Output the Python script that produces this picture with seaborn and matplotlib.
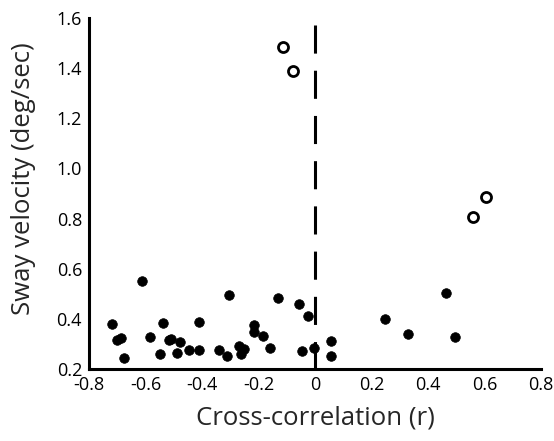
import matplotlib
matplotlib.use('Agg')
import matplotlib.pyplot as plt
import seaborn as sns
import pandas as pd

sns.set_theme(style='white')
plt.rcParams['font.family'] = ['Open Sans', 'DejaVu Sans']

# filled points
r_filled = [-0.72, -0.70, -0.688, -0.677, -0.611, -0.584, -0.537, -0.55, -0.516, -0.508,
            -0.477, -0.488, -0.445, -0.409, -0.409, -0.34, -0.313, -0.304, -0.269, -0.253,
            -0.263, -0.215, -0.216, -0.185, -0.159, -0.132, -0.056, -0.025, -0.047, -0.005,
            0.055, 0.055, 0.247, 0.33, 0.463, 0.494]
v_filled = [0.38, 0.316, 0.323, 0.245, 0.552, 0.327, 0.385, 0.26, 0.316, 0.319,
            0.309, 0.264, 0.277, 0.388, 0.277, 0.277, 0.253, 0.495, 0.293, 0.279,
            0.261, 0.375, 0.349, 0.331, 0.283, 0.483, 0.459, 0.413, 0.273, 0.284,
            0.312, 0.252, 0.401, 0.339, 0.505, 0.327]
# open points (outliers)
r_open = [-0.113, -0.079, 0.558, 0.607]
v_open = [1.484, 1.388, 0.808, 0.885]

df_f = pd.DataFrame({'r': r_filled, 'v': v_filled})
df_o = pd.DataFrame({'r': r_open, 'v': v_open})

fig = plt.figure(figsize=(5.54, 4.41), dpi=100)
ax = fig.add_axes([89/554, 1 - 369/441, (541 - 89)/554, (369 - 18)/441])

sns.scatterplot(data=df_f, x='r', y='v', ax=ax, color='black', s=48,
                edgecolor='black', linewidth=0.5, zorder=3)
sns.scatterplot(data=df_o, x='r', y='v', ax=ax, facecolor='white', s=52,
                edgecolor='black', linewidth=2.0, zorder=3)

# zero line, long dashes from the top down
ax.plot([0, 0], [1.572, 0.2], color='black', linewidth=2.2,
        linestyle=(0, (9.2, 5.6)), zorder=2)

ax.set_xlim(-0.8, 0.8)
ax.set_ylim(0.2, 1.6)
ax.set_xticks([-0.8, -0.6, -0.4, -0.2, 0, 0.2, 0.4, 0.6, 0.8])
ax.set_xticklabels(['-0.8', '-0.6', '-0.4', '-0.2', '0', '0.2', '0.4', '0.6', '0.8'])
ax.set_yticks([0.2, 0.4, 0.6, 0.8, 1.0, 1.2, 1.4, 1.6])
ax.set_yticklabels(['0.2', '0.4', '0.6', '0.8', '1.0', '1.2', '1.4', '1.6'])

sns.despine(ax=ax)
for side in ['left', 'bottom']:
    ax.spines[side].set_linewidth(2.2)
    ax.spines[side].set_color('black')
ax.tick_params(direction='in', length=4, width=2, labelsize=13, colors='black', pad=5)

ax.set_xlabel('Cross-correlation (r)', fontsize=18.5)
ax.set_ylabel('Sway velocity (deg/sec)', fontsize=18.5)
ax.xaxis.set_label_coords(0.5, -(418 - 369) / 351, transform=ax.transAxes)
ax.yaxis.set_label_coords(-(89 - 24) / 452, 0.5 - ((179 - 193.5) / 351), transform=ax.transAxes)
ax.xaxis.label.set_va('center')
ax.yaxis.label.set_va('center')
for sp in ax.spines.values():
    sp.set_clip_on(False)

fig.savefig('out.png', dpi=100, facecolor='white')
